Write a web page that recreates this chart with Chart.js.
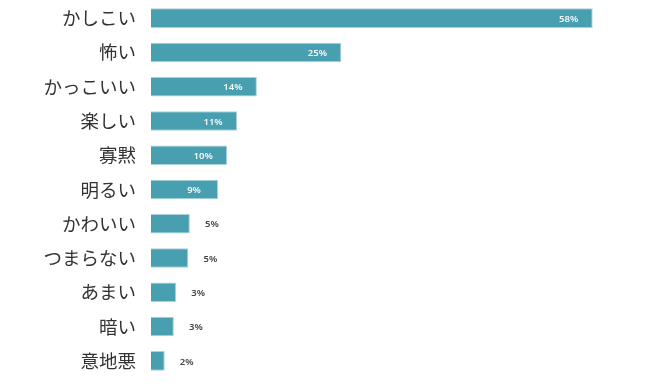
<!DOCTYPE html>
<html lang="ja">
<head>
<meta charset="utf-8">
<script src="https://cdn.jsdelivr.net/npm/chart.js@4/dist/chart.umd.min.js"></script>
<style>
  html, body { margin: 0; padding: 0; background: #fff; }
  #wrap { width: 650px; height: 387px; position: relative; }
</style>
</head>
<body>
<div id="wrap"><canvas id="barChart"></canvas></div>
<script>
    // categories, top to bottom
    var categories = ['かしこい', '怖い', 'かっこいい', '楽しい', '寡黙', '明るい', 'かわいい', 'つまらない', 'あまい', '暗い', '意地悪'];
    // bar lengths (%)
    var shares = [58, 25, 13.9, 11.3, 10, 8.8, 5.1, 4.9, 3.3, 3.0, 1.8];
    // printed value labels
    var shareLabels = ['58%', '25%', '14%', '11%', '10%', '9%', '5%', '5%', '3%', '3%', '2%'];

    var BAR_COLOR = '#479fb0';

    /* ---- value labels: white inside long bars, dark outside short ones ---- */
    var valueLabels = {
        id: 'valueLabels',
        afterDatasetsDraw: function(chart) {
            var ctx = chart.ctx;
            var meta = chart.getDatasetMeta(0);
            ctx.save();
            ctx.font = '600 9.5px "Noto Sans", "Open Sans", sans-serif';
            ctx.textAlign = 'center';
            ctx.textBaseline = 'middle';
            meta.data.forEach(function(bar, i) {
                var inside = shares[i] > 7;
                ctx.fillStyle = inside ? '#f4f9fa' : '#444444';
                var x = inside ? bar.x - 24 : bar.x + 22;
                ctx.fillText(shareLabels[i], x, bar.y + 1);
            });
            ctx.restore();
        }
    };

    new Chart(document.getElementById('barChart').getContext('2d'), {
        type: 'bar',
        data: {
            labels: categories,
            datasets: [{
                data: shares,
                backgroundColor: BAR_COLOR,
                borderColor: '#a9d3dc',
                borderWidth: 1,
                barPercentage: 0.57,
                categoryPercentage: 1
            }]
        },
        options: {
            indexAxis: 'y',
            responsive: true, maintainAspectRatio: false,
            animation: false,
            layout: { padding: { top: 1, bottom: 9, left: 0, right: 4 } },
            plugins: { legend: { display: false }, tooltip: { enabled: false } },
            scales: {
                x: { display: false, min: 0, max: 65 },
                y: {
                    grid: { display: false, drawTicks: false },
                    border: { display: false },
                    ticks: {
                        color: '#333333',
                        padding: 15,
                        font: { family: '"Noto Sans CJK JP", "Noto Sans", sans-serif', size: 18.5 }
                    },
                    afterFit: function(scale) {
                        // fixed label column; drop the label half-height padding
                        scale.width = 151;
                        scale.paddingTop = 0;
                        scale.paddingBottom = 0;
                    }
                }
            }
        },
        plugins: [valueLabels]
    });
</script>
</body>
</html>
